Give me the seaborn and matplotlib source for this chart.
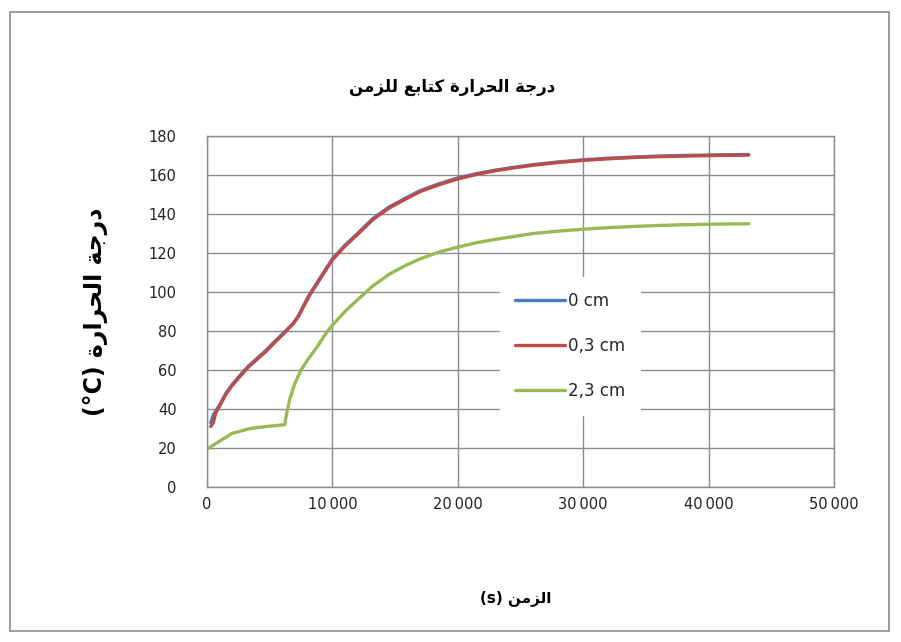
import matplotlib
matplotlib.use("Agg")
import matplotlib.pyplot as plt
import matplotlib.patches as mpatches
import pandas as pd
import seaborn as sns

# --- data -----------------------------------------------------------------
series_names = ["0 cm", "0,3 cm", "2,3 cm"]
series_colors = ["#4A7EBB", "#BE4B48", "#98B954"]

time_surface = [300, 500, 700, 1000, 1500, 2000, 2600, 3300, 4000, 4700, 5300,
                6100, 6900, 7300, 7700, 8200, 8800, 9400, 10000, 11000, 12000,
                13200, 14500, 15800, 17000, 18500, 20000, 21500, 23000, 24500,
                26000, 28000, 30000, 32000, 34000, 36000, 38000, 40500, 43200]
temp_0cm = [33, 37, 39, 42, 48, 52.5, 57, 62, 66, 70, 74,
            79, 84, 88, 93, 99, 105, 111, 117, 124, 130,
            137.5, 143.5, 148, 152, 155.5, 158.5, 160.7, 162.5, 164,
            165.3, 166.7, 167.8, 168.6, 169.2, 169.7, 170, 170.3, 170.5]
temp_03cm = [31, 33, 38, 41.5, 47.5, 52, 56.5, 61.5, 65.5, 69.5, 73.5,
             78.5, 84, 87.5, 92.5, 98.5, 104.5, 110.5, 116.5, 123.5, 129.5,
             137, 143, 147.5, 151.5, 155, 158, 160.3, 162.2, 163.7,
             165, 166.4, 167.5, 168.3, 169, 169.4, 169.7, 170, 170.2]

time_deep = [0, 500, 1000, 1500, 2000, 2600, 3300, 4000, 5000, 6000, 6200,
             6300, 6600, 7000, 7500, 8000, 8800, 9400, 10000, 11000, 12000,
             13200, 14500, 15800, 17000, 18500, 20000, 21500, 23000, 24500,
             26000, 28000, 30000, 32000, 34000, 36000, 38000, 40500, 43200]
temp_23cm = [19.5, 21.5, 23.5, 25.5, 27.5, 28.5, 29.8, 30.5, 31.2, 31.8, 32,
             36, 45, 53, 60, 65, 72, 78, 83, 90, 96,
             103, 109, 113.5, 117, 120.5, 123, 125.3, 127, 128.5,
             130, 131.2, 132.2, 133, 133.6, 134.1, 134.5, 134.8, 135]

x_ticks = [0, 10000, 20000, 30000, 40000, 50000]
x_tick_labels = ["0", "10\u2009000", "20\u2009000", "30\u2009000", "40\u2009000", "50\u2009000"]
y_ticks = [0, 20, 40, 60, 80, 100, 120, 140, 160, 180]

title_text = "درجة الحرارة كتابع للزمن"
ylabel_text = "درجة الحرارة"
xlabel_text = "الزمن"

# --- minimal Arabic shaping (contextual forms + right-to-left order) -------
FORMS = {
    "ا": ("\uFE8D", "\uFE8E", None, None),
    "ب": ("\uFE8F", "\uFE90", "\uFE91", "\uFE92"),
    "ة": ("\uFE93", "\uFE94", None, None),
    "ت": ("\uFE95", "\uFE96", "\uFE97", "\uFE98"),
    "ج": ("\uFE9D", "\uFE9E", "\uFE9F", "\uFEA0"),
    "ح": ("\uFEA1", "\uFEA2", "\uFEA3", "\uFEA4"),
    "د": ("\uFEA9", "\uFEAA", None, None),
    "ر": ("\uFEAD", "\uFEAE", None, None),
    "ز": ("\uFEAF", "\uFEB0", None, None),
    "ع": ("\uFEC9", "\uFECA", "\uFECB", "\uFECC"),
    "ك": ("\uFED9", "\uFEDA", "\uFEDB", "\uFEDC"),
    "ل": ("\uFEDD", "\uFEDE", "\uFEDF", "\uFEE0"),
    "م": ("\uFEE1", "\uFEE2", "\uFEE3", "\uFEE4"),
    "ن": ("\uFEE5", "\uFEE6", "\uFEE7", "\uFEE8"),
}


def arabic(text):
    out = []
    for i, ch in enumerate(text):
        if ch not in FORMS:
            out.append(ch)
            continue
        prev = text[i - 1] if i > 0 else None
        nxt = text[i + 1] if i + 1 < len(text) else None
        joins_prev = prev in FORMS and FORMS[prev][2] is not None
        joins_next = FORMS[ch][2] is not None and nxt in FORMS
        iso, fin, ini, med = FORMS[ch]
        if joins_prev and joins_next:
            out.append(med)
        elif joins_prev:
            out.append(fin)
        elif joins_next:
            out.append(ini)
        else:
            out.append(iso)
    return "".join(out)[::-1]


# --- long-form table -------------------------------------------------------
df = pd.concat([
    pd.DataFrame({"t": time_surface, "T": temp_0cm, "series": series_names[0]}),
    pd.DataFrame({"t": time_surface, "T": temp_03cm, "series": series_names[1]}),
    pd.DataFrame({"t": time_deep, "T": temp_23cm, "series": series_names[2]}),
], ignore_index=True)

# --- figure ----------------------------------------------------------------
sns.set_style("white")
plt.rcParams["font.family"] = ["DejaVu Sans"]

W, H = 901, 642
fig = plt.figure(figsize=(W / 100, H / 100), dpi=100)
fig.patch.set_facecolor("white")

left, right, top, bottom = 207, 834, 136, 487
ax = fig.add_axes([left / W, 1 - bottom / H, (right - left) / W, (bottom - top) / H])

sns.lineplot(data=df, x="t", y="T", hue="series", hue_order=series_names,
             palette=series_colors, linewidth=2.4, sort=False, estimator=None,
             ax=ax, legend=True)

ax.set_xlim(0, 50000)
ax.set_ylim(0, 180)
ax.set_xticks(x_ticks, x_tick_labels)
ax.set_yticks(y_ticks)
ax.tick_params(axis="both", length=0, labelsize=10.5, colors="#222222")
ax.tick_params(axis="x", pad=7)
ax.tick_params(axis="y", pad=22)
ax.grid(True, color="#8c8c8c", linewidth=1.0)
ax.set_axisbelow(True)
for s in ax.spines.values():
    s.set_color("#8c8c8c")
    s.set_linewidth(1.0)
ax.set_xlabel("")
ax.set_ylabel("")

leg = ax.legend(loc="upper left", bbox_to_anchor=(0.467, 0.598), frameon=True,
                facecolor="white", edgecolor="white", fancybox=False, framealpha=1,
                fontsize=12, handlelength=3.0, handletextpad=0.18,
                labelspacing=1.62, borderpad=0.9, borderaxespad=0)
for line in leg.get_lines():
    line.set_linewidth(2.4)

# titles and axis labels
fig.text(452 / W, 1 - 87 / H, arabic(title_text), ha="center", va="center",
         fontsize=12, fontweight="bold", color="black")
fig.text(516 / W, 1 - 598 / H, "(s) " + arabic(xlabel_text), ha="center", va="center",
         fontsize=11, fontweight="bold", color="black")
fig.text(95 / W, 1 - 312 / H, "(°C) " + arabic(ylabel_text), ha="center", va="center",
         rotation=90, fontsize=17, fontweight="bold", color="black")

# chart-area border
fig.patches.append(mpatches.Rectangle((10 / W, 1 - 631 / H), (889 - 10) / W, (631 - 12) / H,
                                      transform=fig.transFigure, fill=False,
                                      edgecolor="#8c8c8c", linewidth=1.2))

fig.savefig("out.png", dpi=100)
